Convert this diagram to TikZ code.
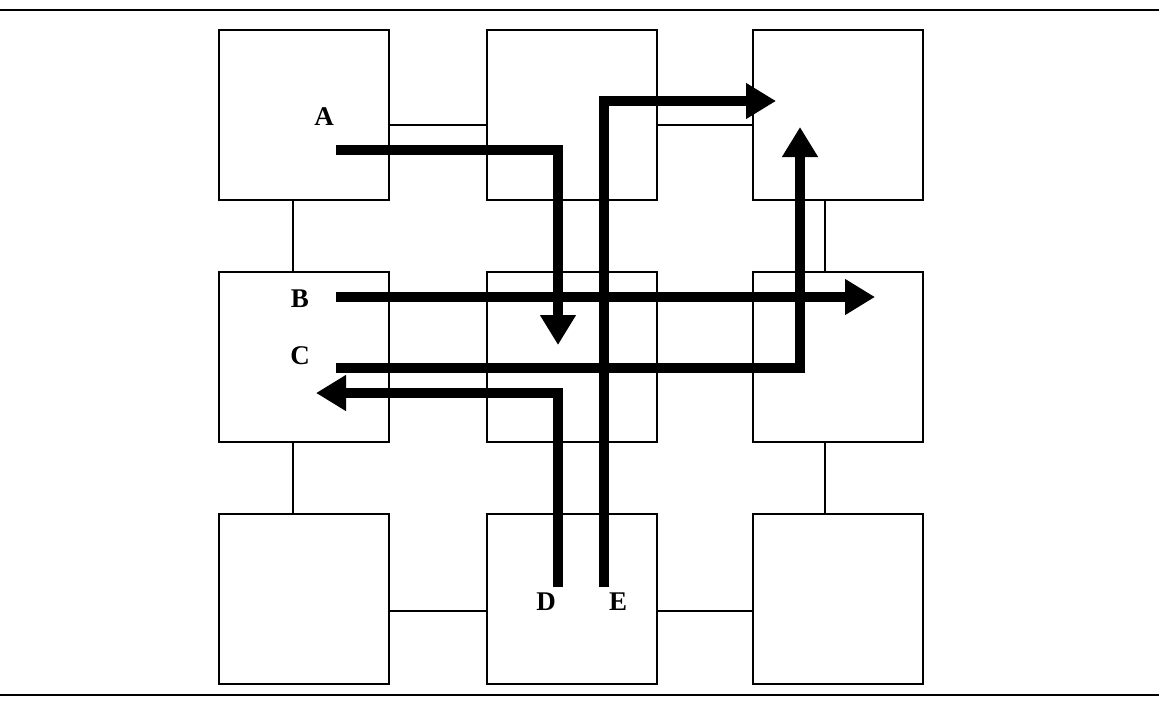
\documentclass[tikz,border=0pt]{standalone}
\usepackage{fontspec}
\setmainfont{Liberation Serif}
\usetikzlibrary{arrows.meta}
\begin{document}
\begin{tikzpicture}[x=1pt,y=-1pt,
  box/.style={draw,line width=1.8pt,minimum width=170pt,minimum height=170pt,inner sep=0pt},
  thin/.style={line width=1.8pt},
  route/.style={line width=10pt,-{Triangle[length=30pt,width=34pt]}},
  lbl/.style={font=\bfseries\fontsize{27}{27}\selectfont,inner sep=0pt}]
\useasboundingbox (0,0) rectangle (1159,707);
\draw[thin] (0,10) coordinate (tl) -- (1159,10) coordinate (tr);
\draw[thin] (0,695) coordinate (bl) -- (1159,695) coordinate (br);
% boxes
\node[box] (b11) at (304,115) {};
\node[box] (b12) at (572,115) {};
\node[box] (b13) at (838,115) {};
\node[box] (b21) at (304,357) {};
\node[box] (b22) at (572,357) {};
\node[box] (b23) at (838,357) {};
\node[box] (b31) at (304,599) {};
\node[box] (b32) at (572,599) {};
\node[box] (b33) at (838,599) {};
% links
\draw[thin] (b11.east |- 0,125) -- (b12.west |- 0,125);
\draw[thin] (b12.east |- 0,125) -- (b13.west |- 0,125);
\draw[thin] (b31.east |- 0,611) -- (b32.west |- 0,611);
\draw[thin] (b32.east |- 0,611) -- (b33.west |- 0,611);
\draw[thin] (b11.south -| 293,0) -- (b21.north -| 293,0);
\draw[thin] (b21.south -| 293,0) -- (b31.north -| 293,0);
\draw[thin] (b13.south -| 825,0) -- (b23.north -| 825,0);
\draw[thin] (b23.south -| 825,0) -- (b33.north -| 825,0);
% labels
\node[lbl] (A) at (324,117) {A};
\node[lbl] (B) at (300,299) {B};
\node[lbl] (C) at (300,356) {C};
\node[lbl] (D) at (546,602) {D};
\node[lbl] (E) at (618,602) {E};
% route end coordinates
\coordinate (a0) at (336,150);
\coordinate (a1) at (558,150);
\coordinate (a2) at (558,345);
\coordinate (bb0) at (336,297);
\coordinate (bb1) at (875,297);
\coordinate (c0) at (336,368);
\coordinate (c1) at (800,368);
\coordinate (c2) at (800,127);
\coordinate (d0) at (558,587);
\coordinate (d1) at (558,393);
\coordinate (d2) at (316,393);
\coordinate (e0) at (604,587);
\coordinate (e1) at (604,101);
\coordinate (e2) at (776,101);
\draw[route] (a0) -- (a1) -- (a2);
\draw[route] (bb0) -- (bb1);
\draw[route] (c0) -- (c1) -- (c2);
\draw[route] (d0) -- (d1) -- (d2);
\draw[route] (e0) -- (e1) -- (e2);
\end{tikzpicture}
\end{document}
